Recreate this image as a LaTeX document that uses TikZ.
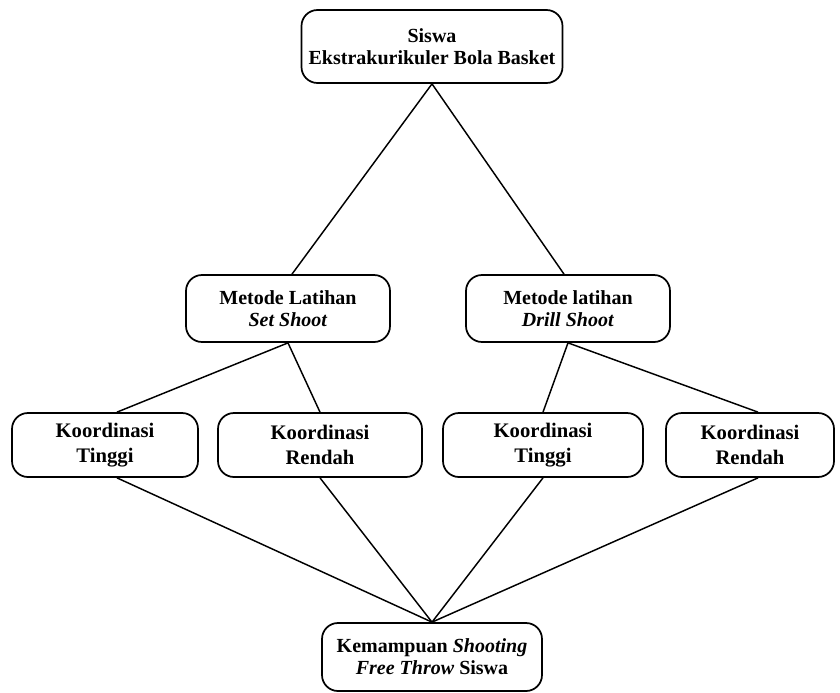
\documentclass[tikz,border=0pt]{standalone}
\usepackage{fontspec}
\setmainfont{Liberation Serif}
\begin{document}
\begin{tikzpicture}[x=0.75pt,y=-0.75pt,
  box/.style={draw, line width=1.3pt, rounded corners=12pt, align=center,
    font=\fontsize{15}{16.5}\selectfont\bfseries, inner sep=0pt, fill=white},
  kbox/.style={box, font=\fontsize{15.5}{19}\selectfont\bfseries, minimum height=48pt},
  conn/.style={line width=1.1pt}]
\useasboundingbox[fill=white] (0,0) rectangle (840,693);
\node[box, minimum width=195.75pt, minimum height=54.75pt] (top) at (432,46.5) {Siswa\\Ekstrakurikuler Bola Basket};
\node[box, minimum width=153pt, minimum height=50.25pt] (m1) at (288,308.5) {Metode Latihan\\\textit{Set Shoot}};
\node[box, minimum width=153pt, minimum height=50.25pt] (m2) at (568,308.5) {Metode latihan\\\textit{Drill Shoot}};
\node[kbox, minimum width=139.5pt] (b1) at (105,445) {Koordinasi\\Tinggi};
\node[kbox, minimum width=153pt] (b2) at (320,445) {Koordinasi\\Rendah};
\node[kbox, minimum width=150pt] (b3) at (543,445) {Koordinasi\\Tinggi};
\node[kbox, minimum width=126pt] (b4) at (750,445) {Koordinasi\\Rendah};
\node[box, minimum width=165pt, minimum height=51pt] (bot) at (432,657) {Kemampuan \textit{Shooting}\\\textit{Free Throw} Siswa};
\draw[conn] (top.south) -- ([xshift=3pt]m1.north);
\draw[conn] (top.south) -- ([xshift=-3pt]m2.north);
\draw[conn] (m1.south) -- ([xshift=9pt]b1.north);
\draw[conn] (m1.south) -- (b2.north);
\draw[conn] (m2.south) -- (b3.north);
\draw[conn] (m2.south) -- ([xshift=6pt]b4.north);
\draw[conn] ([xshift=9pt]b1.south) -- (bot.north);
\draw[conn] (b2.south) -- (bot.north);
\draw[conn] (b3.south) -- (bot.north);
\draw[conn] ([xshift=6pt]b4.south) -- (bot.north);
\end{tikzpicture}
\end{document}
